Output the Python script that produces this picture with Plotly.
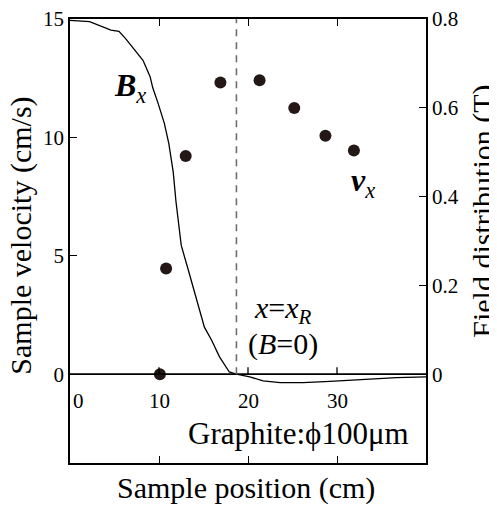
import plotly.graph_objects as go

# ---- data ----
field_x = [0, 2.2, 4.6, 5.5, 6.2, 7.1, 8.2, 9.0, 9.3, 9.9, 10.6, 11.1, 11.6, 11.9, 12.5,
           13.3, 14.2, 15.1, 15.9, 16.8, 17.9, 18.7, 20.2, 21.7, 23.6, 26.2, 29.2, 32.9, 36.7, 40]
field_B = [0.797, 0.794, 0.775, 0.772, 0.757, 0.734, 0.707, 0.670, 0.645, 0.610, 0.565, 0.520,
           0.455, 0.390, 0.290, 0.234, 0.167, 0.106, 0.077, 0.039, 0.005, 0.0, -0.006, -0.015,
           -0.019, -0.019, -0.016, -0.011, -0.0075, -0.006]
vel_x = [10.1, 10.8, 13.0, 16.9, 21.3, 25.2, 28.7, 31.9]
vel_v = [0, 4.46, 9.21, 12.32, 12.41, 11.24, 10.07, 9.45]
x_R = 18.7
x_ticks = [0, 10, 20, 30]
x_tick_labels = ["0", "10", "20", "30"]
v_ticks = [0, 5, 10, 15]
b_ticks = [0, 0.2, 0.4, 0.6, 0.8]
b_tick_labels = ["0", "0.2", "0.4", "0.6", "0.8"]

FONT = "Liberation Serif, Times New Roman, Times, serif"
BLACK = "#000000"
DOT = "#231815"

fig = go.Figure()
fig.add_trace(go.Scatter(x=field_x, y=field_B, mode="lines", yaxis="y2",
                         line=dict(color=BLACK, width=1.3), showlegend=False, hoverinfo="skip"))
fig.add_trace(go.Scatter(x=vel_x, y=vel_v, mode="markers", yaxis="y",
                         marker=dict(color=DOT, size=12), showlegend=False))

shapes = []
shapes.append(dict(type="line", xref="x", yref="y", x0=0, x1=40, y0=0, y1=0,
                   line=dict(color=BLACK, width=1.8), layer="above"))
for t in x_ticks[1:]:
    shapes.append(dict(type="line", xref="x", yref="y", x0=t, x1=t, ysizemode="pixel",
                       yanchor=0, y0=0, y1=7, line=dict(color=BLACK, width=1.3)))
shapes.append(dict(type="line", xref="x", yref="y", x0=x_R, x1=x_R, y0=0, y1=15,
                   line=dict(color="#6e6e6e", width=1.6, dash="7px,6px")))

ann = []
for t, lab in zip(x_ticks, x_tick_labels):
    ann.append(dict(x=t, y=-1.15, xref="x", yref="y", text=lab, showarrow=False,
                    xanchor="left" if t == 0 else "center", xshift=1 if t == 0 else 0,
                    yanchor="middle", font=dict(family=FONT, size=21, color=BLACK)))
ann += [
    dict(x=4.7, y=12.1, xref="x", yref="y", showarrow=False, xanchor="left", yanchor="middle",
         text="<b><i>B</i></b><sub><i>x</i></sub>", font=dict(family=FONT, size=32, color=BLACK)),
    dict(x=31.4, y=8.1, xref="x", yref="y", showarrow=False, xanchor="left", yanchor="middle",
         text="<b><i>v</i></b><sub><i>x</i></sub>", font=dict(family=FONT, size=32, color=BLACK)),
    dict(x=23.9, y=2.7, xref="x", yref="y", showarrow=False, xanchor="center", yanchor="middle",
         text="<i>x</i>=<i>x</i><sub><i>R</i></sub>", font=dict(family=FONT, size=30, color=BLACK)),
    dict(x=23.9, y=1.27, xref="x", yref="y", showarrow=False, xanchor="center", yanchor="middle",
         text="(<i>B</i>=0)", font=dict(family=FONT, size=30, color=BLACK)),
    dict(x=13.0, y=-2.5, xref="x", yref="y", showarrow=False, xanchor="left", yanchor="middle",
         text="Graphite:\u03d5100\u03bcm", font=dict(family=FONT, size=31, color=BLACK)),
    dict(x=0.494, y=-0.056, xref="paper", yref="paper", showarrow=False, xanchor="center",
         yanchor="middle", text="Sample position (cm)", font=dict(family=FONT, size=30, color=BLACK)),
    dict(x=-0.136, y=0.511, xref="paper", yref="paper", showarrow=False, xanchor="center",
         yanchor="middle", textangle=-90, text="Sample velocity (cm/s)",
         font=dict(family=FONT, size=30, color=BLACK)),
    dict(x=1.160, y=0.568, xref="paper", yref="paper", showarrow=False, xanchor="center",
         yanchor="middle", textangle=-90, text="Field distribution (T)",
         font=dict(family=FONT, size=30, color=BLACK)),
]

axis_common = dict(showgrid=False, zeroline=False, showline=True, linecolor=BLACK, linewidth=1.5,
                   ticks="inside", ticklen=7, tickwidth=1.3, tickcolor=BLACK, automargin=False,
                   ticklabeloverflow="allow")

fig.update_layout(
    width=489, height=498,
    margin=dict(l=62, r=71, t=11, b=43, autoexpand=False),
    paper_bgcolor="white", plot_bgcolor="white",
    font=dict(family=FONT, color=BLACK),
    xaxis=dict(range=[0, 40], mirror="ticks", tickvals=x_ticks[1:], showticklabels=False,
               **axis_common),
    yaxis=dict(range=[-3.75, 15], tickvals=v_ticks,
               tickfont=dict(family=FONT, size=21, color=BLACK), **axis_common),
    yaxis2=dict(range=[-0.2, 0.8], overlaying="y", side="right", tickvals=b_ticks,
                ticktext=b_tick_labels, tickfont=dict(family=FONT, size=21, color=BLACK),
                **axis_common),
    shapes=shapes,
    annotations=ann,
)

fig.write_html("out.html")
